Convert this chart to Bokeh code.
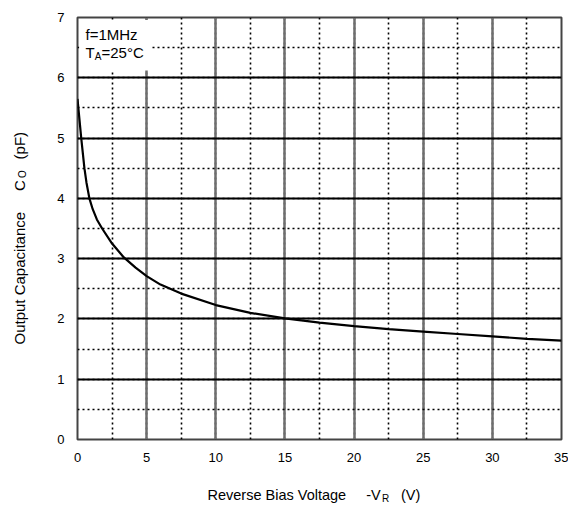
import math
from bokeh.plotting import figure
from bokeh.models import SingleIntervalTicker, Label, Range1d
from bokeh.embed import file_html
from bokeh.resources import INLINE

# data
voltage = [0, 0.12, 0.27, 0.5, 0.65, 0.86, 1.1, 1.4, 1.78, 2.5, 3.35, 4.2, 5, 6, 7.5,
           10, 12.5, 15, 17.5, 20, 22.5, 25, 27.5, 30, 32.5, 35]
capacitance = [5.65, 5.36, 5.0, 4.5, 4.26, 4.0, 3.82, 3.65, 3.5, 3.25, 3.02, 2.85, 2.71, 2.57, 2.42,
               2.23, 2.10, 2.01, 1.94, 1.88, 1.83, 1.79, 1.75, 1.71, 1.67, 1.64]
x_ticks = [0, 5, 10, 15, 20, 25, 30, 35]
y_ticks = [0, 1, 2, 3, 4, 5, 6, 7]

FONT = "Liberation Sans"

p = figure(width=568, height=505, output_backend="svg", toolbar_location=None,
           x_range=Range1d(x_ticks[0], x_ticks[-1]), y_range=Range1d(y_ticks[0], y_ticks[-1]),
           min_border_left=77, min_border_right=7, min_border_top=17, min_border_bottom=66)

p.xaxis.ticker = SingleIntervalTicker(interval=5, num_minor_ticks=2)
p.yaxis.ticker = SingleIntervalTicker(interval=1, num_minor_ticks=2)
for ax in (p.xaxis, p.yaxis):
    ax.axis_line_color = None
    ax.major_tick_line_color = None
    ax.minor_tick_line_color = None
    ax.major_tick_out = 0
    ax.major_tick_in = 0
    ax.major_label_text_font = FONT
    ax.major_label_text_font_size = "13px"
    ax.major_label_text_color = "black"
    ax.major_label_standoff = 9

p.xgrid.grid_line_color = "#6e6e6e"
p.xgrid.grid_line_width = 2.5
p.xgrid.minor_grid_line_color = "black"
p.xgrid.minor_grid_line_width = 1.6
p.xgrid.minor_grid_line_dash = "2 3"
p.ygrid.grid_line_color = "black"
p.ygrid.grid_line_width = 1.8
p.ygrid.minor_grid_line_color = "black"
p.ygrid.minor_grid_line_width = 1.6
p.ygrid.minor_grid_line_dash = "2 3"
p.outline_line_color = "#444444"
p.outline_line_width = 2

# white box behind the conditions text
p.quad(left=0.12, right=5.3, bottom=6.12, top=6.96, fill_color="white", line_color=None)

p.line(voltage, capacitance, line_color="black", line_width=2.2)


def lab(text, px, py, size="14px", angle=0.0, align="left", baseline="middle", side=None):
    # px, py: page pixel position; anchor is the data origin (frame bottom-left at 77, 439)
    label = Label(x=0, y=0, x_offset=px - 77, y_offset=439 - py, text=text,
                  text_font=FONT, text_font_size=size, text_color="black",
                  angle=angle, text_align=align, text_baseline=baseline)
    if side is None:
        p.add_layout(label)
    else:
        p.add_layout(label, side)


# conditions
lab("f=1MHz", 85, 33.5, size="15px")
lab("T", 85, 52, size="15px")
lab("A", 94.2, 55.5, size="10px")
lab("=25\u00b0C", 101, 52, size="15px")

SP = "\u00a0" * 5
# x axis title
lab("Reverse Bias Voltage" + SP + "-V" + SP + "(V)", 207, 494, size="14.5px", side="below")
lab("R", 381.5, 497.5, size="10px", side="below")

# y axis title (rotated, reading upwards)
A = math.pi / 2
lab("Output Capacitance" + SP + "C" + SP + "(pF)", 18.5, 344, size="15px", angle=A, side="left")
lab("O", 21.5, 173.5, size="10px", angle=A, align="center", side="left")

open("out.html", "w").write(file_html(p, INLINE))
